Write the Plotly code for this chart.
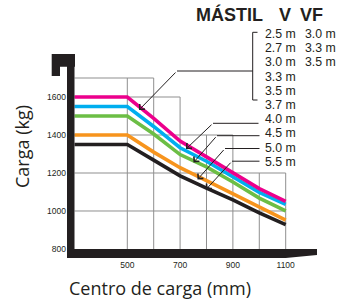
import plotly.graph_objects as go

# ---------------- data ----------------
load_center = [300, 400, 500, 600, 700, 800, 900, 1000, 1100]          # mm
cap_v25_37 = [1600, 1600, 1600, 1488, 1368, 1285, 1202, 1118, 1050]   # magenta
cap_40 = [1550, 1550, 1550, 1445, 1333, 1262, 1180, 1098, 1035]        # cyan
cap_45 = [1500, 1500, 1500, 1405, 1297, 1232, 1153, 1068, 1000]        # green
cap_50 = [1400, 1400, 1400, 1310, 1228, 1160, 1090, 1020, 952]         # orange
cap_55 = [1350, 1350, 1350, 1268, 1185, 1120, 1058, 990, 928]          # black

x_tick_vals = [500, 700, 900, 1100]
y_tick_vals = [800, 1000, 1200, 1400, 1600]

grid_x = [500, 600, 700, 800, 900, 1000, 1100]
grid_x_top = [1700, 1700, 1600, 1400, 1400, 1200, 1200]
grid_y = [1000, 1200, 1400, 1600, 1700]
grid_y_end = [1100, 1100, 900, 700, 600]

header = ["MÁSTIL", "V", "VF"]
mast_v = ["2.5 m", "2.7 m", "3.0 m", "3.3 m", "3.5 m", "3.7 m"]
mast_vf = ["3.0 m", "3.3 m", "3.5 m"]
mast_single = ["4.0 m", "4.5 m", "5.0 m", "5.5 m"]

x_title = "Centro de carga (mm)"
y_title = "Carga (kg)"

# ---------------- layout geometry ----------------
W, H = 339, 303
ML, MR, MT, MB = 67, 22, 54, 45
PW, PH = W - ML - MR, H - MT - MB
X_RANGE = [271.6, 1218.6]
Y_RANGE = [752.6, 1826.3]
BLACK = "#231F20"
GRID = "#8f8f8f"


def px(p):
    return (p - ML) / PW


def py(p):
    return (MT + PH - p) / PH


fig = go.Figure()

# staircase grid
gx, gy = [], []
for x, top in zip(grid_x, grid_x_top):
    gx += [x, x, None]
    gy += [800, top, None]
for y, end in zip(grid_y, grid_y_end):
    gx += [300, end, None]
    gy += [y, y, None]
fig.add_trace(go.Scatter(x=gx, y=gy, mode="lines", line=dict(color=GRID, width=1),
                         hoverinfo="skip", showlegend=False))

series = [
    (cap_55, BLACK),
    (cap_50, "#F7941D"),
    (cap_45, "#6CBE45"),
    (cap_40, "#00AEEF"),
    (cap_v25_37, "#EC008C"),
]
for vals, col in series:
    fig.add_trace(go.Scatter(x=load_center, y=vals, mode="lines",
                             line=dict(color=col, width=3.6),
                             showlegend=False))

shapes = []
# axis frame: vertical bar & bottom bar (data coords)
shapes.append(dict(type="rect", xref="x", yref="y", x0=X_RANGE[0], x1=300,
                   y0=Y_RANGE[0], y1=Y_RANGE[1], fillcolor=BLACK, line_width=0, layer="above"))
shapes.append(dict(type="path", xref="x", yref="y",
                   path=f"M {X_RANGE[0]},800 L {X_RANGE[1]},800 L {X_RANGE[1]},768 "
                        f"L 1100,{Y_RANGE[0]} L {X_RANGE[0]},{Y_RANGE[0]} Z",
                   fillcolor=BLACK, line_width=0, layer="above"))
# hook at top of vertical axis (paper coords)
hook = [(51.7, 54), (75, 54), (75, 66.7), (60, 66.7), (60, 76), (51.7, 76)]
path = "M " + " L ".join(f"{px(a)},{py(b)}" for a, b in hook) + " Z"
shapes.append(dict(type="path", xref="paper", yref="paper", path=path,
                   fillcolor=BLACK, line_width=0))

# bracket for the first group
bx = 252.7
shapes.append(dict(type="path", xref="paper", yref="paper",
                   path=f"M {px(257.5)},{py(32.3)} L {px(bx)},{py(32.3)} L {px(bx)},{py(100)} L {px(257.5)},{py(100)}",
                   line=dict(color=BLACK, width=1)))

# leaders: (knee_x, knee_y, end_x, tip_x, tip_y)
leaders = [
    (177, 71, bx, 139, 110),
    (213, 123.3, 258.5, 186, 149),
    (217, 135.7, 259.5, 193.5, 162.5),
    (225, 148.5, 259.5, 197.5, 179.5),
    (232, 161.2, 259.5, 206, 189.5),
]
annotations = []
for kx, ky, ex, tx, ty in leaders:
    shapes.append(dict(type="line", xref="paper", yref="paper",
                       x0=px(kx), y0=py(ky), x1=px(ex), y1=py(ky),
                       line=dict(color=BLACK, width=1)))
    annotations.append(dict(xref="paper", yref="paper", x=px(tx), y=py(ty),
                            ax=kx - tx, ay=ky - ty, axref="pixel", ayref="pixel",
                            text="", showarrow=True, arrowhead=4, arrowsize=1.4,
                            arrowwidth=1, arrowcolor=BLACK, standoff=0, startstandoff=0))

LEG_FONT = dict(family="Liberation Sans, Arial, sans-serif", size=12.3, color=BLACK)
row_y = [34 + 14.2 * i for i in range(10)]
labels_col1 = mast_v + mast_single
for i, t in enumerate(labels_col1):
    annotations.append(dict(xref="paper", yref="paper", x=px(263), y=py(row_y[i]),
                            xanchor="left", yanchor="middle", text=t, showarrow=False,
                            font=LEG_FONT))
for i, t in enumerate(mast_vf):
    annotations.append(dict(xref="paper", yref="paper", x=px(302.5), y=py(row_y[i]),
                            xanchor="left", yanchor="middle", text=t, showarrow=False,
                            font=LEG_FONT))

HEAD_FONT = dict(family="Liberation Sans, Arial, sans-serif", size=18, color=BLACK)
for t, cx in zip(header, [229, 285, 311.5]):
    annotations.append(dict(xref="paper", yref="paper", x=px(cx), y=py(14.5),
                            xanchor="center", yanchor="middle", text=f"<b>{t}</b>",
                            showarrow=False, font=HEAD_FONT))

TITLE_FONT = dict(family="Open Sans, sans-serif", size=18, color=BLACK)
annotations.append(dict(xref="paper", yref="paper", x=px(160), y=py(288),
                        xanchor="center", yanchor="middle", text=x_title,
                        showarrow=False, font=TITLE_FONT))
annotations.append(dict(xref="paper", yref="paper", x=px(22), y=py(147),
                        xanchor="center", yanchor="middle", text=y_title, textangle=-90,
                        showarrow=False, font=TITLE_FONT))

TICK_FONT = dict(family="Liberation Sans, Arial, sans-serif", size=8.5, color=BLACK)
fig.update_layout(
    width=W, height=H,
    margin=dict(l=ML, r=MR, t=MT, b=MB, pad=0),
    paper_bgcolor="white", plot_bgcolor="white",
    xaxis=dict(range=X_RANGE, tickvals=x_tick_vals, showgrid=False, zeroline=False,
               showline=False, ticks="", tickfont=TICK_FONT, fixedrange=True),
    yaxis=dict(range=Y_RANGE, tickvals=y_tick_vals, showgrid=False, zeroline=False,
               showline=False, ticks="", tickfont=TICK_FONT, fixedrange=True),
    shapes=shapes, annotations=annotations, showlegend=False,
)

fig.write_html("out.html", config={"displayModeBar": False},
               post_script="document.body.style.margin='0';document.body.style.overflow='hidden';")
